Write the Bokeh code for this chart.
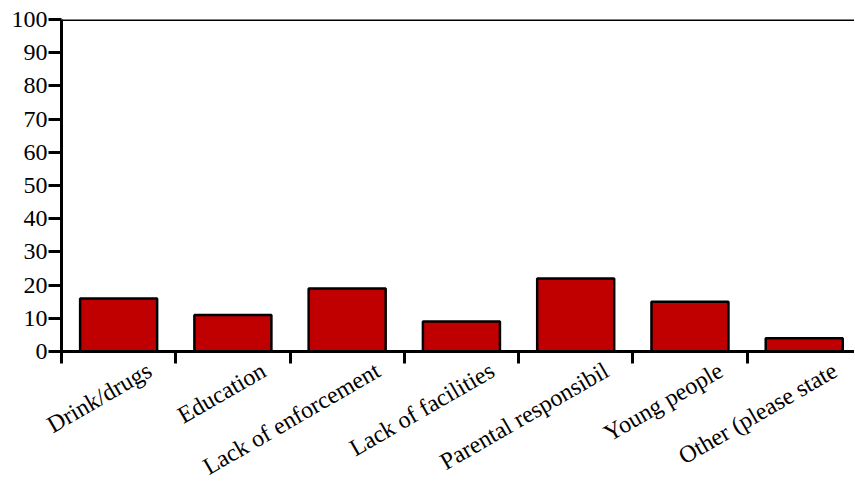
import math
from bokeh.plotting import figure
from bokeh.models import FixedTicker, Span, Range1d
from bokeh.embed import file_html
from bokeh.resources import INLINE

categories = ["Drink/drugs", "Education", "Lack of enforcement", "Lack of facilities",
              "Parental responsibil", "Young people", "Other (please state"]
values = [16, 11, 19, 9, 22, 15, 4]
y_ticks = [0, 10, 20, 30, 40, 50, 60, 70, 80, 90, 100]

idx = list(range(len(categories)))
LABEL_SHIFT = 0.27  # rotated labels end a little right of the bar centre

p = figure(width=854, height=493, output_backend="svg", toolbar_location=None,
           x_range=Range1d(-0.5, 6.44), y_range=Range1d(0, 100),
           min_border_left=61, min_border_right=0, min_border_top=19, min_border_bottom=141)

p.vbar(x=idx, top=values, width=0.674, bottom=0,
       fill_color="#C00000", line_color="black", line_width=2.5)

p.xgrid.visible = False
p.ygrid.visible = False
p.outline_line_color = None

p.add_layout(Span(location=100, dimension="width", line_color="black", line_width=3))

FONT = "Times New Roman"

ya = p.yaxis[0]
ya.ticker = FixedTicker(ticks=y_ticks, minor_ticks=[])
ya.axis_line_width = 3
ya.axis_line_color = "black"
ya.major_tick_line_width = 3
ya.major_tick_out = 13
ya.major_tick_in = 0
ya.minor_tick_line_color = None
ya.major_label_text_font = FONT
ya.major_label_text_font_size = "24px"
ya.major_label_text_color = "black"
ya.major_label_standoff = 1

label_pos = [i + LABEL_SHIFT for i in idx]
xa = p.xaxis[0]
xa.ticker = FixedTicker(ticks=label_pos, minor_ticks=[i - 0.5 for i in range(len(categories) + 1)])
xa.major_label_overrides = {pos: c for pos, c in zip(label_pos, categories)}
xa.axis_line_width = 3
xa.axis_line_color = "black"
xa.major_tick_line_color = None
xa.major_tick_out = 0
xa.major_tick_in = 0
xa.minor_tick_line_color = "black"
xa.minor_tick_line_width = 3
xa.minor_tick_out = 12
xa.minor_tick_in = 0
xa.major_label_orientation = math.pi / 6
xa.major_label_text_font = FONT
xa.major_label_text_font_size = "24px"
xa.major_label_text_color = "black"
xa.major_label_standoff = 5

open("out.html", "w").write(file_html(p, INLINE))
